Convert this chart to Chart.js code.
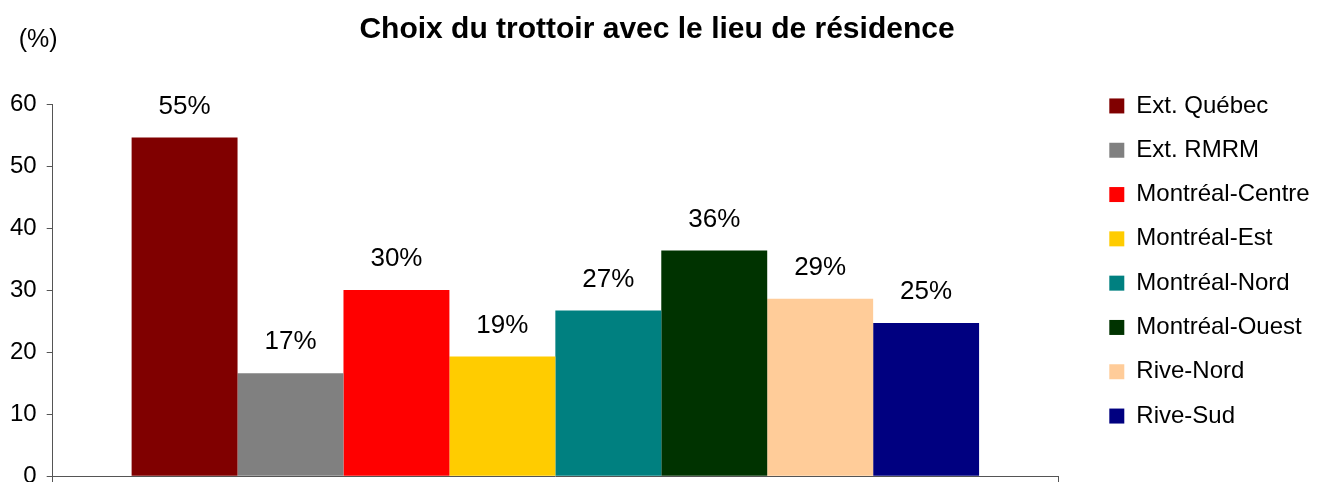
<!DOCTYPE html>
<html>
<head>
<meta charset="utf-8">
<script src="https://cdn.jsdelivr.net/npm/chart.js@4.4.1/dist/chart.umd.min.js"></script>
<style>
  html, body { margin: 0; padding: 0; background: #fff; overflow: hidden; }
  #wrap { width: 1326px; height: 522px; }
</style>
</head>
<body>
<div id="wrap"><canvas id="chart" width="1326" height="522"></canvas></div>
<script>
const chartTitle = 'Choix du trottoir avec le lieu de résidence';
const unitLabel = '(%)';
const categories = [''];
const regions = ['Ext. Québec', 'Ext. RMRM', 'Montréal-Centre', 'Montréal-Est', 'Montréal-Nord', 'Montréal-Ouest', 'Rive-Nord', 'Rive-Sud'];
const percentages = [54.6, 16.6, 30.0, 19.3, 26.7, 36.4, 28.6, 24.7];
const regionColors = ['#800000', '#808080', '#ff0000', '#ffcc00', '#008080', '#003300', '#ffcc99', '#000080'];
const yTicks = [0, 10, 20, 30, 40, 50, 60];

const fontFamily = "'Liberation Sans', Arial, sans-serif";
const axisColor = '#555555';

// draws the "55%" style labels above each bar
const barLabels = {
    id: 'barLabels',
    afterDatasetsDraw(chart) {
        const ctx = chart.ctx;
        ctx.save();
        ctx.font = '26px ' + fontFamily;
        ctx.fillStyle = '#000';
        ctx.textAlign = 'center';
        ctx.textBaseline = 'middle';
        chart.data.datasets.forEach((ds, i) => {
            const bar = chart.getDatasetMeta(i).data[0];
            if (!bar) return;
            ctx.fillText(Math.round(ds.data[0]) + '%', bar.x, bar.y - 31);
        });
        ctx.restore();
    }
};

// "(%)" unit label sitting above the y axis
const unitText = {
    id: 'unitText',
    afterDraw(chart) {
        const ctx = chart.ctx;
        const area = chart.chartArea;
        ctx.save();
        ctx.font = '25px ' + fontFamily;
        ctx.fillStyle = '#000';
        ctx.textAlign = 'left';
        ctx.textBaseline = 'middle';
        ctx.fillText(unitLabel, area.left - 34, area.top - 64);
        ctx.restore();
    }
};

// legend clips to its own box, give the longest label a little room on the right
const legendRoom = {
    id: 'legendRoom',
    afterInit(chart) {
        const legend = chart.legend;
        if (!legend) return;
        const fit = legend.fit;
        legend.fit = function () {
            fit.call(this);
            this.width += 6;
        };
    }
};

const chart = new Chart(document.getElementById('chart'), {
    type: 'bar',
    data: {
        labels: categories,
        datasets: regions.map((name, i) => ({
            label: name,
            data: [percentages[i]],
            backgroundColor: regionColors[i],
            borderWidth: 0,
            yAxisID: 'y'
        }))
    },
    options: {
        responsive: false,
        animation: false,
        categoryPercentage: 0.843,
        barPercentage: 1.0,
        layout: { padding: { left: 0, right: 12, top: 0, bottom: 0 } },
        plugins: {
            title: {
                display: true,
                text: chartTitle,
                color: '#000',
                font: { family: fontFamily, size: 30, weight: 'bold' },
                padding: { top: 12, bottom: 56 }
            },
            legend: {
                position: 'right',
                labels: {
                    color: '#000',
                    font: { family: fontFamily, size: 24 },
                    boxWidth: 15,
                    boxHeight: 15,
                    padding: 20.3
                }
            },
            tooltip: { enabled: false }
        },
        scales: {
            x: {
                offset: true,
                grid: { display: true, offset: true, drawOnChartArea: false, tickLength: 7, color: axisColor },
                border: { display: true, color: axisColor },
                ticks: { font: { family: fontFamily, size: 24 }, color: '#000', padding: 5 }
            },
            y: {
                min: 0,
                max: 60,
                afterBuildTicks: scale => { scale.ticks = yTicks.map(v => ({ value: v })); },
                grid: { display: true, drawOnChartArea: false, tickLength: 6, color: axisColor },
                border: { display: true, color: axisColor },
                ticks: { font: { family: fontFamily, size: 24 }, color: '#000', padding: 10 }
            },
            // empty right-hand axis, only keeps a gap between plot and legend
            gap: {
                axis: 'y',
                position: 'right',
                display: true,
                grid: { display: false },
                border: { display: false },
                ticks: { display: false },
                afterFit: scale => { scale.width = 31; }
            }
        }
    },
    plugins: [legendRoom, barLabels, unitText]
});
</script>
</body>
</html>
